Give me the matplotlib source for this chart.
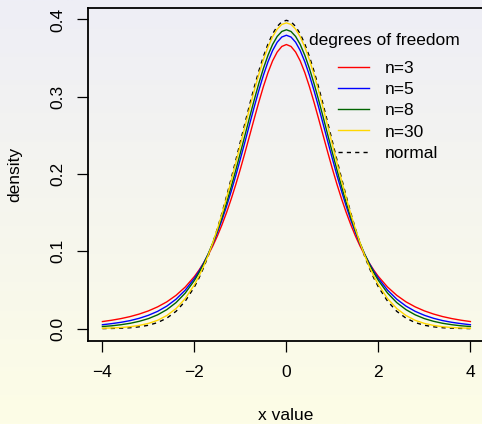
import numpy as np
import matplotlib
matplotlib.use("Agg")
import matplotlib.pyplot as plt
from matplotlib.colors import LinearSegmentedColormap

plt.rcParams["font.family"] = ["Liberation Sans", "DejaVu Sans"]

# x grid and density values (t distributions with n degrees of freedom, plus normal)
x_vals = [-4.0, -3.8, -3.6, -3.4, -3.2, -3.0, -2.8, -2.6, -2.4, -2.2,
          -2.0, -1.9, -1.8, -1.7, -1.6, -1.5, -1.4, -1.3, -1.2, -1.1,
          -1.0, -0.9, -0.8, -0.7, -0.6, -0.5, -0.4, -0.3, -0.2, -0.1,
          0.0,
          0.1, 0.2, 0.3, 0.4, 0.5, 0.6, 0.7, 0.8, 0.9, 1.0,
          1.1, 1.2, 1.3, 1.4, 1.5, 1.6, 1.7, 1.8, 1.9, 2.0,
          2.2, 2.4, 2.6, 2.8, 3.0, 3.2, 3.4, 3.6, 3.8, 4.0]

dens_normal = [0.0001, 0.0003, 0.0006, 0.0012, 0.0024, 0.0044, 0.0079, 0.0136, 0.0224, 0.0355,
               0.0540, 0.0656, 0.0790, 0.0940, 0.1109, 0.1295, 0.1497, 0.1714, 0.1942, 0.2179,
               0.2420, 0.2661, 0.2897, 0.3123, 0.3332, 0.3521, 0.3683, 0.3814, 0.3910, 0.3970,
               0.3989,
               0.3970, 0.3910, 0.3814, 0.3683, 0.3521, 0.3332, 0.3123, 0.2897, 0.2661, 0.2420,
               0.2179, 0.1942, 0.1714, 0.1497, 0.1295, 0.1109, 0.0940, 0.0790, 0.0656, 0.0540,
               0.0355, 0.0224, 0.0136, 0.0079, 0.0044, 0.0024, 0.0012, 0.0006, 0.0003, 0.0001]

dens_t3 = [0.0092, 0.0109, 0.0130, 0.0156, 0.0189, 0.0230, 0.0282, 0.0347, 0.0431, 0.0538,
           0.0675, 0.0757, 0.0850, 0.0954, 0.1070, 0.1200, 0.1345, 0.1504, 0.1678, 0.1866,
           0.2067, 0.2279, 0.2497, 0.2716, 0.2930, 0.3132, 0.3313, 0.3465, 0.3579, 0.3651,
           0.3676,
           0.3651, 0.3579, 0.3465, 0.3313, 0.3132, 0.2930, 0.2716, 0.2497, 0.2279, 0.2067,
           0.1866, 0.1678, 0.1504, 0.1345, 0.1200, 0.1070, 0.0954, 0.0850, 0.0757, 0.0675,
           0.0538, 0.0431, 0.0347, 0.0282, 0.0230, 0.0189, 0.0156, 0.0130, 0.0109, 0.0092]

dens_t5 = [0.0051, 0.0065, 0.0082, 0.0104, 0.0134, 0.0173, 0.0224, 0.0292, 0.0381, 0.0498,
           0.0651, 0.0743, 0.0848, 0.0966, 0.1098, 0.1245, 0.1407, 0.1585, 0.1777, 0.1981,
           0.2197, 0.2419, 0.2645, 0.2868, 0.3081, 0.3279, 0.3454, 0.3598, 0.3706, 0.3773,
           0.3796,
           0.3773, 0.3706, 0.3598, 0.3454, 0.3279, 0.3081, 0.2868, 0.2645, 0.2419, 0.2197,
           0.1981, 0.1777, 0.1585, 0.1407, 0.1245, 0.1098, 0.0966, 0.0848, 0.0743, 0.0651,
           0.0498, 0.0381, 0.0292, 0.0224, 0.0173, 0.0134, 0.0104, 0.0082, 0.0065, 0.0051]

dens_t8 = [0.0028, 0.0037, 0.0051, 0.0069, 0.0095, 0.0130, 0.0179, 0.0246, 0.0337, 0.0460,
           0.0624, 0.0724, 0.0837, 0.0965, 0.1109, 0.1268, 0.1442, 0.1632, 0.1836, 0.2052,
           0.2276, 0.2505, 0.2735, 0.2959, 0.3172, 0.3367, 0.3537, 0.3677, 0.3781, 0.3845,
           0.3867,
           0.3845, 0.3781, 0.3677, 0.3537, 0.3367, 0.3172, 0.2959, 0.2735, 0.2505, 0.2276,
           0.2052, 0.1836, 0.1632, 0.1442, 0.1268, 0.1109, 0.0965, 0.0837, 0.0724, 0.0624,
           0.0460, 0.0337, 0.0246, 0.0179, 0.0130, 0.0095, 0.0069, 0.0051, 0.0037, 0.0028]

dens_t30 = [0.0005, 0.0009, 0.0015, 0.0025, 0.0042, 0.0068, 0.0108, 0.0170, 0.0260, 0.0389,
            0.0569, 0.0680, 0.0807, 0.0951, 0.1112, 0.1290, 0.1483, 0.1692, 0.1913, 0.2144,
            0.2380, 0.2618, 0.2852, 0.3078, 0.3288, 0.3479, 0.3643, 0.3777, 0.3875, 0.3936,
            0.3956,
            0.3936, 0.3875, 0.3777, 0.3643, 0.3479, 0.3288, 0.3078, 0.2852, 0.2618, 0.2380,
            0.2144, 0.1913, 0.1692, 0.1483, 0.1290, 0.1112, 0.0951, 0.0807, 0.0680, 0.0569,
            0.0389, 0.0260, 0.0170, 0.0108, 0.0068, 0.0042, 0.0025, 0.0015, 0.0009, 0.0005]

series_labels = ["n=3", "n=5", "n=8", "n=30", "normal"]
series_colors = ["red", "blue", "darkgreen", "gold", "black"]
x_ticks = [-4, -2, 0, 2, 4]
y_ticks = [0.0, 0.1, 0.2, 0.3, 0.4]

W, H = 482, 424
fig = plt.figure(figsize=(W / 100, H / 100), dpi=100)

# vertical background gradient behind everything
bg = fig.add_axes([0, 0, 1, 1], zorder=-10)
cmap = LinearSegmentedColormap.from_list("bg", ["#fdfde6", "#eeeef6"])
bg.imshow(np.linspace(0, 1, 256).reshape(-1, 1), aspect="auto", cmap=cmap,
          origin="lower", extent=[0, 1, 0, 1])
bg.set_axis_off()

ax = fig.add_axes([87.7 / W, 83 / H, 397.4 / W, 333 / H])
ax.set_facecolor("none")

lw = 1.0
h_norm, = ax.plot(x_vals, dens_normal, color="black", lw=lw, dashes=(3, 3))
h3, = ax.plot(x_vals, dens_t3, color=series_colors[0], lw=lw)
h5, = ax.plot(x_vals, dens_t5, color=series_colors[1], lw=lw)
h8, = ax.plot(x_vals, dens_t8, color=series_colors[2], lw=lw)
h30, = ax.plot(x_vals, dens_t30, color=series_colors[3], lw=lw)

ax.set_xlim(-4.32, 4.32)
ymax = max(dens_normal)
ax.set_ylim(-0.04 * ymax, 1.04 * ymax)

fs = 12.5
ax.set_xticks(x_ticks)
ax.set_xticklabels([f"{t:d}".replace("-", "\u2212") for t in x_ticks])
ax.set_yticks(y_ticks)
ax.set_yticklabels([f"{t:.1f}" for t in y_ticks], rotation=90, va="center")
ax.tick_params(direction="out", length=8, width=0.9, labelsize=fs, colors="black")
ax.tick_params(axis="x", pad=9)
ax.tick_params(axis="y", pad=8)
for s in ax.spines.values():
    s.set_linewidth(1.3)

ax.set_xlabel("x value", fontsize=fs)
ax.set_ylabel("density", fontsize=fs)
ax.xaxis.set_label_coords((285.7 - 87.7) / 397.4, (341 - 415) / 333)
ax.xaxis.label.set_va("center")
ax.yaxis.set_label_coords((15 - 87.7) / 397.4, 0.5)
ax.yaxis.label.set_va("center")

# legend entries plus a centred title above them
leg = ax.legend([h3, h5, h8, h30, h_norm], series_labels, loc="upper left",
                bbox_to_anchor=(337.7 / W, (H - 60.7) / H), bbox_transform=fig.transFigure,
                frameon=False, fontsize=fs, handlelength=1.82, handletextpad=0.9,
                labelspacing=0.35, borderpad=0, borderaxespad=0)
fig.text(384 / W, (H - 40.7) / H, "degrees of freedom", fontsize=fs,
         ha="center", va="center")

fig.savefig("out.png", dpi=100)
